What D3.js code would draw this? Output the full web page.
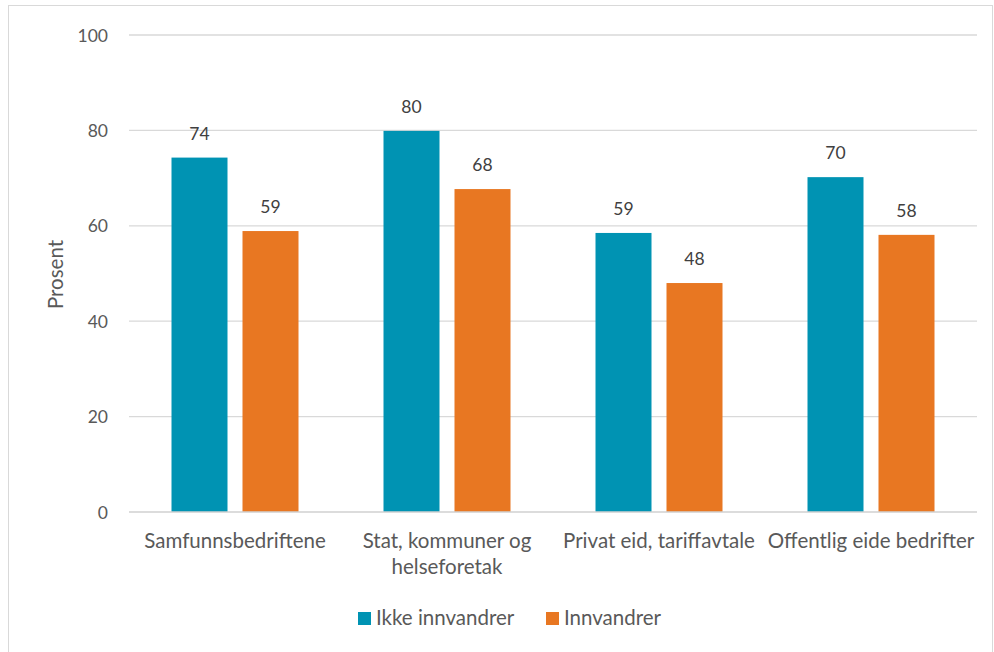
<!DOCTYPE html>
<html><head><meta charset="utf-8">
<script src="https://cdn.jsdelivr.net/npm/d3@7"></script>
<style>
body{margin:0;background:#fff;}
svg text{font-family:"Source Sans Pro",Lato,"Open Sans",sans-serif;fill:#595959;}
</style></head><body>
<svg id="c" width="994" height="652"></svg>
<script>
const categories = ["Samfunnsbedriftene", "Stat, kommuner og helseforetak", "Privat eid, tariffavtale", "Offentlig eide bedrifter"];
const categoryLines = [["Samfunnsbedriftene"], ["Stat, kommuner og", "helseforetak"], ["Privat eid, tariffavtale"], ["Offentlig eide bedrifter"]];
const seriesNames = ["Ikke innvandrer", "Innvandrer"];
const ikkeInnvandrer = [74.3, 79.9, 58.5, 70.2];
const innvandrer = [58.9, 67.7, 48.0, 58.1];
const yTicks = [0, 20, 40, 60, 80, 100];
const colors = ["#0093B3", "#E87722"];

const svg = d3.select("#c");
svg.append("rect").attr("x",8.5).attr("y",5.5).attr("width",984).attr("height",660)
  .attr("fill","#fff").attr("stroke","#d9d9d9");

const m = {left:129, right:977, top:35, bottom:512};
const y = d3.scaleLinear().domain([0,100]).range([m.bottom, m.top]);
const x = d3.scaleBand().domain(categories).range([m.left, m.right]);
const inner = d3.scaleBand().domain(seriesNames).range([0, 127]).paddingInner(15/71);

// gridlines
svg.append("g").selectAll("line").data(yTicks.filter(t=>t>0)).join("line")
  .attr("x1",m.left).attr("x2",m.right).attr("y1",d=>y(d)).attr("y2",d=>y(d))
  .attr("stroke","#d9d9d9").attr("stroke-width",1.3);

// y axis
const ya = svg.append("g").attr("transform",`translate(${m.left-21},0)`)
  .call(d3.axisLeft(y).tickValues(yTicks).tickSize(0).tickPadding(0));
ya.select(".domain").remove();
ya.selectAll("text").style("font-size","17.5px").attr("dy","0.35em");

svg.append("text").attr("transform",`translate(63,${(m.top+m.bottom)/2+1}) rotate(-90)`)
  .attr("text-anchor","middle").style("font-size","20.5px").text("Prosent");

const data = [ikkeInnvandrer, innvandrer];
seriesNames.forEach((s,si)=>{
  const g = svg.append("g");
  g.selectAll("rect").data(categories).join("rect")
    .attr("x",(c)=>x(c)+x.bandwidth()/2-63.5+inner(s))
    .attr("y",(c,i)=>y(data[si][i]))
    .attr("width",inner.bandwidth())
    .attr("height",(c,i)=>y(0)-y(data[si][i]))
    .attr("fill",colors[si]);
  g.selectAll("text").data(categories).join("text")
    .attr("x",(c)=>x(c)+x.bandwidth()/2-63.5+inner(s)+inner.bandwidth()/2)
    .attr("y",(c,i)=>y(data[si][i])-18)
    .attr("text-anchor","middle").style("font-size","17.5px").style("fill","#404040")
    .text((c,i)=>Math.round(data[si][i]));
});

// baseline
svg.append("line").attr("x1",m.left).attr("x2",m.right).attr("y1",y(0)).attr("y2",y(0))
  .attr("stroke","#d0d0d0").attr("stroke-width",1.5);

// x labels
categories.forEach((c,i)=>{
  const t = svg.append("text").attr("x",x(c)+x.bandwidth()/2).attr("y",548)
    .attr("text-anchor","middle").style("font-size","20.5px");
  categoryLines[i].forEach((l,li)=>t.append("tspan").attr("x",x(c)+x.bandwidth()/2)
    .attr("dy",li?26:0).text(l));
});

// legend
const legX = [358, 546];
seriesNames.forEach((s,i)=>{
  svg.append("rect").attr("x",legX[i]).attr("y",612).attr("width",13).attr("height",13).attr("fill",colors[i]);
  svg.append("text").attr("x",legX[i]+18).attr("y",625).style("font-size","20.5px").text(s);
});
</script></body></html>
